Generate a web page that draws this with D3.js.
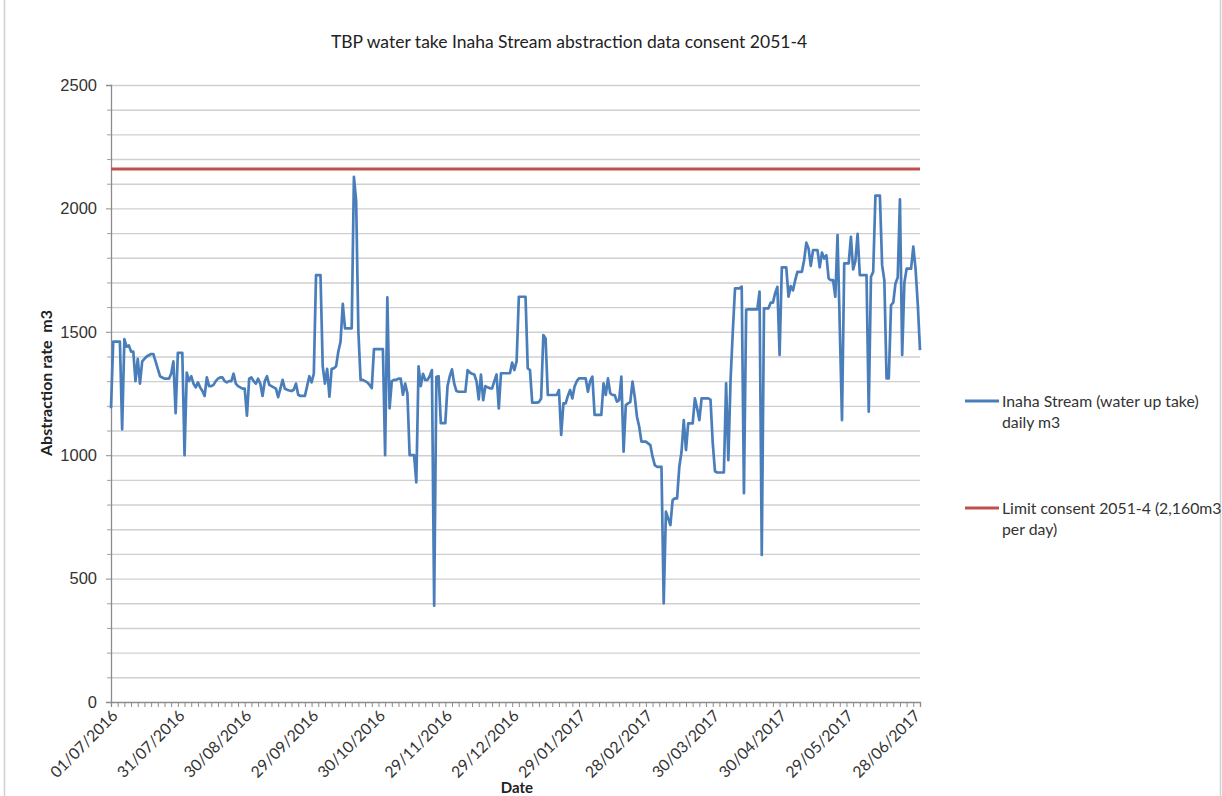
<!DOCTYPE html>
<html>
<head>
<meta charset="utf-8">
<script src="https://cdn.jsdelivr.net/npm/d3@7/dist/d3.min.js"></script>
<style>
  html, body { margin: 0; padding: 0; background: #fff; }
  svg { display: block; font-family: "Lato", "Open Sans", "Liberation Sans", sans-serif; }
</style>
</head>
<body>
<svg id="chart" width="1222" height="796"></svg>
<script>
// Daily abstraction (m3) from the Inaha Stream, 01/07/2016 onwards
const dailyTake = [
  1190,1460,1460,1460,1460,1105,1470,1440,1445,1420,
  1420,1300,1390,1290,1380,1390,1400,1405,1410,1410,
  1380,1350,1320,1315,1310,1310,1310,1330,1380,1170,
  1415,1415,1415,1000,1335,1300,1320,1290,1275,1295,
  1275,1260,1240,1315,1280,1280,1285,1300,1310,1315,
  1315,1300,1295,1300,1300,1330,1290,1280,1275,1270,
  1270,1160,1310,1315,1300,1290,1310,1290,1240,1300,
  1320,1285,1280,1275,1270,1235,1270,1305,1270,1265,
  1262,1260,1265,1290,1245,1240,1240,1240,1280,1320,
  1295,1330,1730,1730,1730,1360,1290,1350,1237,1350,
  1352,1360,1420,1460,1613,1514,1514,1514,1514,2128,
  2030,1500,1305,1305,1300,1295,1285,1272,1430,1430,
  1430,1430,1430,1000,1640,1190,1300,1305,1305,1310,
  1310,1245,1290,1250,1000,1000,1000,890,1360,1280,
  1330,1305,1305,1320,1345,390,1318,1320,1130,1130,
  1130,1280,1320,1348,1290,1260,1257,1257,1257,1257,
  1345,1335,1330,1327,1300,1226,1327,1223,1280,1275,
  1271,1271,1300,1327,1190,1332,1332,1332,1332,1332,
  1375,1345,1380,1642,1642,1642,1642,1352,1345,1213,
  1213,1213,1215,1230,1487,1473,1244,1244,1244,1244,
  1244,1264,1082,1210,1210,1240,1264,1230,1278,1300,
  1311,1311,1311,1311,1257,1300,1318,1163,1163,1163,
  1163,1291,1244,1311,1251,1244,1244,1217,1223,1318,
  1014,1203,1210,1215,1298,1237,1156,1116,1055,1055,
  1055,1048,1041,994,960,953,953,953,400,771,
  744,717,818,825,825,953,1014,1142,1021,1129,
  1129,1129,1230,1190,1142,1230,1230,1230,1230,1225,
  1050,935,930,930,930,930,1291,980,1305,1500,
  1676,1676,1676,1683,846,1590,1591,1591,1591,1591,
  1591,1663,596,1595,1595,1595,1618,1618,1656,1682,
  1406,1761,1761,1761,1642,1685,1668,1709,1743,1743,
  1743,1790,1861,1838,1767,1831,1831,1831,1761,1821,
  1797,1810,1716,1709,1709,1642,1892,1520,1142,1777,
  1777,1777,1885,1753,1786,1897,1730,1730,1730,1730,
  1176,1723,1743,2052,2052,2052,1770,1709,1311,1311,
  1608,1618,1696,1720,2037,1406,1700,1756,1756,1756,
  1845,1756,1612,1426
];

// Consented daily limit (m3)
const consentLimit = 2160;

// Date labels shown along the category axis, one every 30 records
const dateLabels = [
  "01/07/2016","31/07/2016","30/08/2016","29/09/2016","30/10/2016",
  "29/11/2016","29/12/2016","29/01/2017","28/02/2017","30/03/2017",
  "30/04/2017","29/05/2017","28/06/2017"
];
const labelEvery = 30;
const tickEvery = 3;

const yTickValues = [0, 500, 1000, 1500, 2000, 2500];
const yGridStep = 100;

const seriesNames = ["Inaha Stream (water up take)\ndaily m3", "Limit consent 2051-4 (2,160m3\nper day)"];
const seriesColors = ["#4a7ebb", "#c0504d"];

const svg = d3.select("#chart");
const W = 1222, H = 796;
const plot = { left: 111, right: 920, top: 85, bottom: 702 };

// outer chart frame
svg.append("rect").attr("x", 4.5).attr("y", -1).attr("width", W - 6).attr("height", H + 2)
  .attr("fill", "#fff").attr("stroke", "#d0d0d0").attr("stroke-width", 1.5);

const x = d3.scaleLinear().domain([0, dailyTake.length - 1]).range([plot.left, plot.right]);
const y = d3.scaleLinear().domain([0, 2500]).range([plot.bottom, plot.top]);

// horizontal gridlines every 100 m3
const gridVals = d3.range(yGridStep, 2500 + 1, yGridStep);
svg.append("g").selectAll("line").data(gridVals).join("line")
  .attr("x1", plot.left).attr("x2", plot.right)
  .attr("y1", d => y(d) + 0.5).attr("y2", d => y(d) + 0.5)
  .attr("stroke", "#cfcfcf").attr("stroke-width", 1.4);

// y axis
const yAxis = svg.append("g").attr("transform", `translate(${plot.left},0)`)
  .call(d3.axisLeft(y).tickValues(yTickValues).tickSize(5).tickPadding(9).tickFormat(d3.format("d")));
yAxis.select(".domain").attr("stroke", "#8c8c8c").attr("stroke-width", 1.3);
yAxis.selectAll(".tick line").attr("stroke", "#8c8c8c");
yAxis.selectAll(".tick text").attr("font-size", 16.5).attr("fill", "#333");
// minor y ticks at each gridline
svg.append("g").selectAll("line").data(gridVals.filter(v => v % 500 !== 0)).join("line")
  .attr("x1", plot.left - 4).attr("x2", plot.left)
  .attr("y1", d => y(d) + 0.5).attr("y2", d => y(d) + 0.5)
  .attr("stroke", "#a0a0a0");

// x axis with a tick every few records
const xTicks = d3.range(0, dailyTake.length, tickEvery);
const xAxis = svg.append("g").attr("transform", `translate(0,${plot.bottom})`)
  .call(d3.axisBottom(x).tickValues(xTicks).tickSize(5).tickFormat(""));
xAxis.select(".domain").attr("stroke", "#8c8c8c").attr("stroke-width", 1.3);
xAxis.selectAll(".tick line").attr("stroke", "#8c8c8c");

// rotated date labels
svg.append("g").selectAll("text").data(dateLabels).join("text")
  .attr("transform", (d, i) => `translate(${x(i * labelEvery) + 5},${plot.bottom + 12}) rotate(-45)`)
  .attr("text-anchor", "end")
  .attr("dominant-baseline", "middle")
  .attr("font-size", 15.8).attr("fill", "#333")
  .text(d => d);

// consent limit line
svg.append("line")
  .attr("x1", plot.left).attr("x2", plot.right)
  .attr("y1", y(consentLimit)).attr("y2", y(consentLimit))
  .attr("stroke", seriesColors[1]).attr("stroke-width", 3);

// daily take line
const line = d3.line().x((d, i) => x(i)).y(d => y(d));
svg.append("path").datum(dailyTake)
  .attr("d", line)
  .attr("fill", "none")
  .attr("stroke", seriesColors[0])
  .attr("stroke-width", 2.7)
  .attr("stroke-linejoin", "round");

// title
svg.append("text").attr("x", 569).attr("y", 48).attr("text-anchor", "middle")
  .attr("font-size", 17.5).attr("fill", "#222")
  .text("TBP water take Inaha Stream abstraction data consent 2051-4");

// axis titles
svg.append("text").attr("transform", "translate(52,383) rotate(-90)")
  .attr("text-anchor", "middle").attr("font-size", 16).attr("font-weight", "bold").attr("fill", "#222")
  .style("white-space", "pre")
  .text("Abstraction rate  m3");
svg.append("text").attr("x", 517).attr("y", 793).attr("text-anchor", "middle")
  .attr("font-size", 15).attr("font-weight", "bold").attr("fill", "#222")
  .text("Date");

// legend
const legendY = [401, 508];
const lg = svg.append("g").selectAll("g").data(seriesNames).join("g")
  .attr("transform", (d, i) => `translate(965,${legendY[i]})`);
lg.append("line").attr("x1", 0).attr("x2", 34).attr("y1", 0).attr("y2", 0)
  .attr("stroke", (d, i) => seriesColors[i]).attr("stroke-width", 3);
lg.each(function (d) {
  const t = d3.select(this).append("text").attr("x", 37).attr("y", 5.5)
    .attr("font-size", 15.8).attr("fill", "#333");
  d.split("\n").forEach((s, k) => {
    t.append("tspan").attr("x", 37).attr("dy", k === 0 ? 0 : 21).text(s);
  });
});
</script>
</body>
</html>
